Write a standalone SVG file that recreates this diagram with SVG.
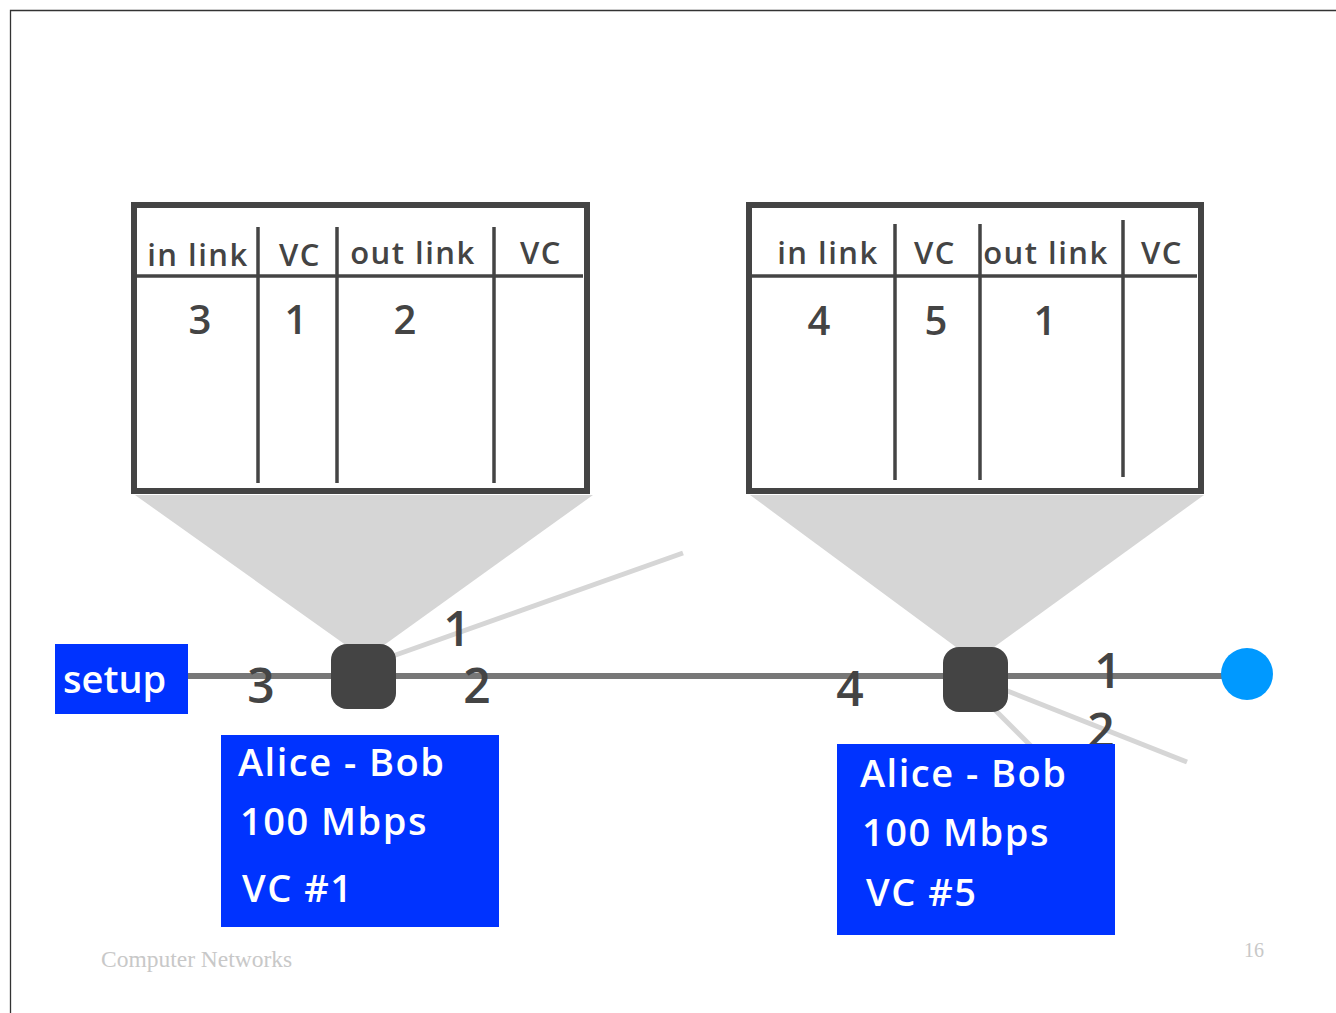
<svg xmlns="http://www.w3.org/2000/svg" width="1336" height="1013" viewBox="0 0 1336 1013">
<style>
.frame{fill:none;stroke:#333;stroke-width:1.3}
.tbl{fill:#fff;stroke:#444;stroke-width:6}
.div{stroke:#444;stroke-width:3.5;fill:none}
.hdr{font-family:"Comic Sans MS","Open Sans","DejaVu Sans",sans-serif;font-size:31px;font-weight:600;letter-spacing:1.5px;fill:#444;text-anchor:middle}
.dig{font-family:"Comic Sans MS","Open Sans","DejaVu Sans",sans-serif;font-size:40px;font-weight:600;fill:#444;text-anchor:middle}
.lbl{font-family:"Comic Sans MS","Open Sans","DejaVu Sans",sans-serif;font-size:48px;font-weight:600;fill:#444;text-anchor:middle}
.cone{fill:#d6d6d6}
.main{stroke:#777;stroke-width:6;fill:none}
.side{stroke:#d6d6d6;stroke-width:5;fill:none}
.sw{fill:#444}
.box{fill:#0033ff}
.wt{font-family:"Comic Sans MS","Open Sans","DejaVu Sans",sans-serif;font-size:38px;font-weight:600;letter-spacing:1.5px;fill:#fff}
.foot{font-family:"Liberation Serif",serif;fill:#c8c8c8}
</style>
<rect width="1336" height="1013" fill="#fff"/>
<path class="frame" d="M10.5,1013 V10.5 H1336"/>

<g id="cones">
<polygon class="cone" points="135,495 593,495 380,648 350,648"/>
<polygon class="cone" points="750,495 1204,495 990,650 960,650"/>
</g>

<g id="connectors">
<line class="side" x1="390" y1="657" x2="683" y2="553"/>
<line class="side" x1="1000" y1="688" x2="1187" y2="762"/>
<line class="side" x1="985" y1="700" x2="1045" y2="760"/>
<line class="main" x1="188" y1="676" x2="1230" y2="676"/>
</g>

<g id="table1">
<rect class="tbl" x="134" y="205" width="453" height="286"/>
<line class="div" x1="137" y1="276" x2="583" y2="276"/>
<line class="div" x1="258" y1="227" x2="258" y2="483"/>
<line class="div" x1="337" y1="227" x2="337" y2="483"/>
<line class="div" x1="494" y1="227" x2="494" y2="483"/>
<text class="hdr" x="198" y="266">in link</text>
<text class="hdr" x="300" y="266">VC</text>
<text class="hdr" x="413" y="264">out link</text>
<text class="hdr" x="541" y="264">VC</text>
<text class="dig" x="200" y="334">3</text>
<text class="dig" x="296" y="334">1</text>
<text class="dig" x="405" y="334">2</text>
</g>

<g id="table2">
<rect class="tbl" x="749" y="205" width="452" height="286"/>
<line class="div" x1="752" y1="276" x2="1197" y2="276"/>
<line class="div" x1="895" y1="224" x2="895" y2="480"/>
<line class="div" x1="980" y1="224" x2="980" y2="480"/>
<line class="div" x1="1123" y1="220" x2="1123" y2="477"/>
<text class="hdr" x="828" y="264">in link</text>
<text class="hdr" x="935" y="264">VC</text>
<text class="hdr" x="1046" y="264">out link</text>
<text class="hdr" x="1162" y="264">VC</text>
<text class="dig" x="819" y="335">4</text>
<text class="dig" x="936" y="335">5</text>
<text class="dig" x="1045" y="335">1</text>
</g>

<g id="setup">
<rect class="box" x="55" y="644" width="133" height="70"/>
<text class="wt" x="63" y="693" style="letter-spacing:0">setup</text>
</g>

<g id="switch1">
<rect class="sw" x="331" y="644" width="65" height="65" rx="16"/>
</g>

<g id="switch2">
<rect class="sw" x="943" y="647" width="65" height="65" rx="16"/>
</g>

<g id="host">
<circle cx="1247" cy="674" r="26" fill="#0099ff"/>
</g>

<g id="port-labels">
<text class="lbl" x="261" y="703">3</text>
<text class="lbl" x="457" y="646">1</text>
<text class="lbl" x="477" y="703">2</text>
<text class="lbl" x="850" y="706">4</text>
<text class="lbl" x="1108" y="688">1</text>
<text class="lbl" x="1101" y="748">2</text>
</g>

<g id="info1">
<rect class="box" x="221" y="735" width="278" height="192"/>
<text class="wt" x="238" y="776">Alice - Bob</text>
<text class="wt" x="240" y="835">100 Mbps</text>
<text class="wt" x="242" y="902">VC #1</text>
</g>

<g id="info2">
<rect class="box" x="837" y="744" width="278" height="191"/>
<text class="wt" x="860" y="787">Alice - Bob</text>
<text class="wt" x="862" y="846">100 Mbps</text>
<text class="wt" x="866" y="906">VC #5</text>
</g>

<g id="footer">
<text class="foot" x="101" y="967" font-size="23.5">Computer Networks</text>
<text class="foot" x="1244" y="957" font-size="20">16</text>
</g>
</svg>
